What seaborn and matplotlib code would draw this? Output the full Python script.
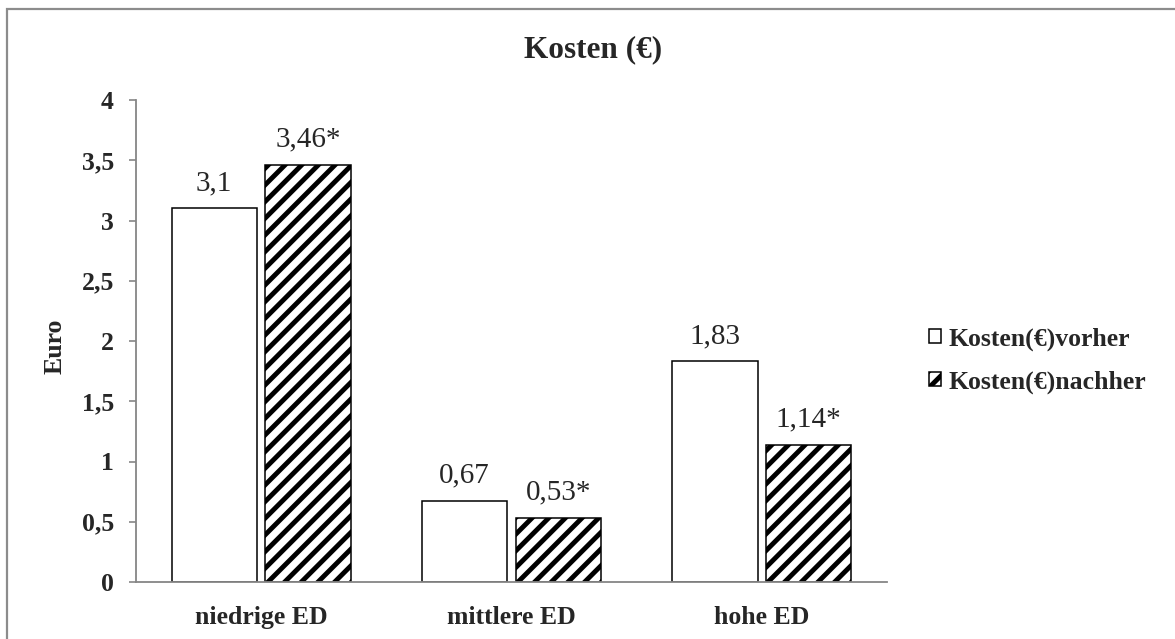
import matplotlib
matplotlib.use("Agg")
import matplotlib.pyplot as plt
import matplotlib.patches as mpatches
import pandas as pd
import seaborn as sns

# Cost data per income group, before and after
groups = ["niedrige ED", "mittlere ED", "hohe ED"]
vorher = [3.1, 0.67, 1.83]
nachher = [3.46, 0.53, 1.14]
series = ["Kosten(€)vorher", "Kosten(€)nachher"]
y_ticks = [0, 0.5, 1, 1.5, 2, 2.5, 3, 3.5, 4]

df = pd.DataFrame({
    "Gruppe": groups * 2,
    "Serie": [series[0]] * len(groups) + [series[1]] * len(groups),
    "Euro": vorher + nachher,
})

sns.set_theme(style="white")
plt.rcParams["font.family"] = ["Liberation Serif", "DejaVu Serif"]
plt.rcParams["hatch.linewidth"] = 3.5
plt.rcParams["hatch.color"] = "black"

fig = plt.figure(figsize=(11.75, 6.39), dpi=100)
ax = fig.add_axes([136 / 1175, 1 - 582 / 639, (887 - 136) / 1175, (582 - 100) / 639])

sns.barplot(
    data=df, x="Gruppe", y="Euro", hue="Serie", order=groups, hue_order=series,
    palette=["white", "white"], edgecolor="black", linewidth=1.1,
    width=0.75, gap=0.09, legend=False, ax=ax, errorbar=None,
)

for patch in ax.containers[1].patches:
    patch.set_hatch("//")

def fmt(v):
    return f"{v:g}".replace(".", ",")

ax.bar_label(ax.containers[0], labels=[fmt(v) for v in vorher],
             padding=9, fontsize=21)
ax.bar_label(ax.containers[1], labels=[fmt(v) + "*" for v in nachher],
             padding=9, fontsize=21)

ax.set_ylim(0, 4)
ax.set_yticks(y_ticks)
ax.set_yticklabels([fmt(v) for v in y_ticks], fontsize=18.5, fontweight="bold")
ax.set_xticks(range(len(groups)))
ax.set_xticklabels(groups, fontsize=18.5, fontweight="bold")
ax.set_xlim(-0.5, len(groups) - 0.5)
ax.set_xlabel("")
ax.set_ylabel("Euro", fontsize=18.5, fontweight="bold")
ax.yaxis.set_label_coords(-0.092, 0.49)

for side in ["top", "right"]:
    ax.spines[side].set_visible(False)
for side in ["left", "bottom"]:
    ax.spines[side].set_color("#868686")
    ax.spines[side].set_linewidth(1.3)

ax.tick_params(axis="y", direction="out", length=5, width=1.2, color="#868686",
               pad=11, left=True)
ax.tick_params(axis="x", length=0, pad=17)

handles = [
    mpatches.Patch(facecolor="white", edgecolor="black", linewidth=1.1),
    mpatches.Patch(facecolor="white", edgecolor="black", linewidth=1.1, hatch="//"),
]
fig.legend(handles, series, loc="center left",
           bbox_to_anchor=(929 / 1175, 1 - 360.5 / 639), bbox_transform=fig.transFigure,
           frameon=False, borderpad=0, borderaxespad=0,
           handlelength=0.45, handleheight=0.45, handletextpad=0.3,
           labelspacing=0.75, prop={"size": 18.5, "weight": "bold"})

fig.text(0.505, 1 - 50 / 639, "Kosten (€)", ha="center", va="center",
         fontsize=22.5, fontweight="bold")

# chart area frame
fig.patches.append(mpatches.Rectangle(
    (7 / 1175, -0.1), 1.2, 1.1 - 9 / 639, transform=fig.transFigure,
    fill=False, edgecolor="#8c8c8c", linewidth=1.6, figure=fig))

fig.savefig("out.png", dpi=100)
